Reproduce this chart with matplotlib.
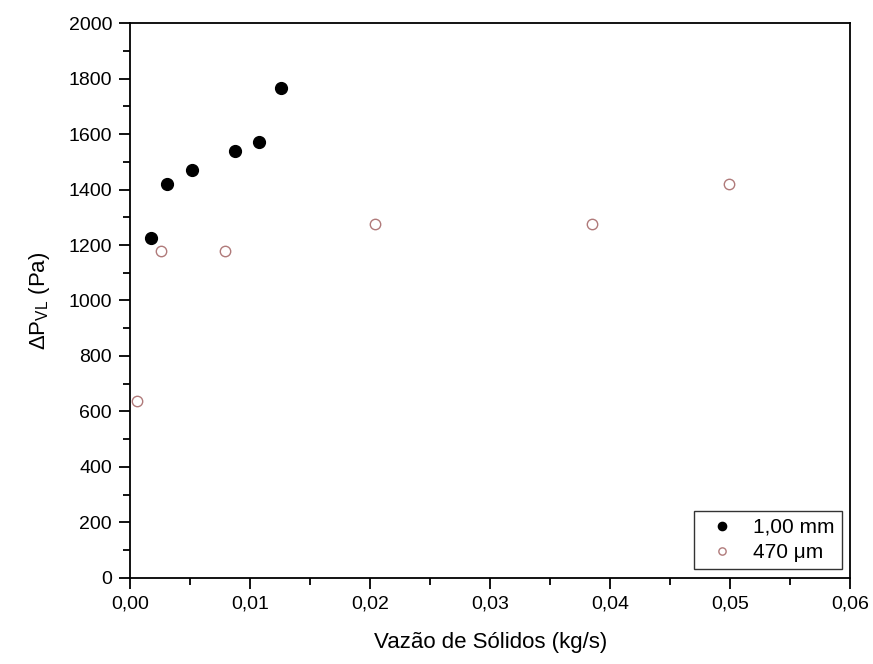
import matplotlib
matplotlib.use("Agg")
import matplotlib.pyplot as plt
from matplotlib.ticker import MultipleLocator, FuncFormatter

plt.rcParams['font.family'] = ['Liberation Sans', 'DejaVu Sans']
plt.rcParams['mathtext.fontset'] = 'custom'
plt.rcParams['mathtext.rm'] = 'Liberation Sans'
plt.rcParams['mathtext.it'] = 'Liberation Sans'

# data
x_1mm = [0.00175, 0.0031, 0.0052, 0.00875, 0.01075, 0.0126]
y_1mm = [1225, 1420, 1470, 1540, 1570, 1765]

x_470 = [0.0006, 0.0026, 0.0079, 0.0204, 0.0385, 0.0499]
y_470 = [637, 1178, 1178, 1275, 1275, 1420]

labels = ['1,00 mm', '470 μm']

fig = plt.figure(figsize=(8.73, 6.64), dpi=100)
ax = fig.add_axes([0.149, 0.130, 0.825, 0.835])

ax.plot(x_1mm, y_1mm, 'o', color='black', markersize=8.5, label=labels[0])
ax.plot(x_470, y_470, 'o', markerfacecolor='none', markeredgecolor='#b07a7a',
        markeredgewidth=1.0, markersize=7.5, label=labels[1])

ax.set_xlim(0, 0.06)
ax.set_ylim(0, 2000)
ax.xaxis.set_major_locator(MultipleLocator(0.01))
ax.xaxis.set_minor_locator(MultipleLocator(0.005))
ax.yaxis.set_major_locator(MultipleLocator(200))
ax.yaxis.set_minor_locator(MultipleLocator(100))
ax.xaxis.set_major_formatter(FuncFormatter(lambda v, p: f'{v:.2f}'.replace('.', ',')))

ax.tick_params(which='both', direction='out', top=False, right=False,
               labelsize=14, width=1.3, colors='black')
ax.tick_params(which='major', length=8, pad=5)
ax.tick_params(which='minor', length=5)
for s in ax.spines.values():
    s.set_linewidth(1.3)

ax.set_xlabel('Vazão de Sólidos (kg/s)', fontsize=16, labelpad=14)
ax.set_ylabel(r'$\Delta$P$_{\mathrm{VL}}$ (Pa)', fontsize=16, labelpad=12)

leg = ax.legend(loc='lower right', fontsize=15, frameon=True, fancybox=False,
                edgecolor='black', borderaxespad=0.4, handletextpad=0.5,
                markerscale=0.7, borderpad=0.35, labelspacing=0.3)
leg.get_frame().set_linewidth(1.0)

fig.savefig('out.png', dpi=100)
